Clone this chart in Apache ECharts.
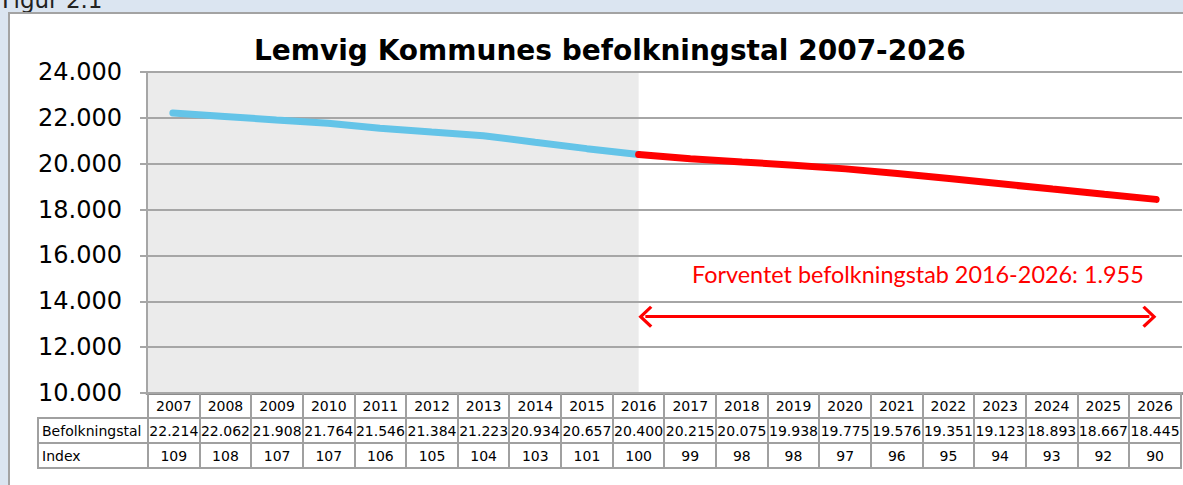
<!DOCTYPE html>
<html>
<head>
<meta charset="utf-8">
<script src="https://cdn.jsdelivr.net/npm/echarts@6/dist/echarts.min.js"></script>
<style>
  html, body { margin: 0; padding: 0; width: 1183px; height: 485px; overflow: hidden;
    background: #dbe5f1; font-family: "DejaVu Sans", Verdana, sans-serif; }
  .fig { position: absolute; left: 2px; top: -11px; font-size: 23px; line-height: 22px; color: #222; }
  .frame { position: absolute; left: 8px; top: 12px; width: 1200px; height: 500px;
    background: #fff; border: 2px solid #a3a3a3; }
  #chart { position: absolute; left: 0; top: 0; width: 1183px; height: 485px; }
  table.data { position: absolute; left: 37px; top: 394px; width: 1145px;
    border-collapse: collapse; table-layout: fixed; font-size: 14px; color: #000; }
  table.data td { height: 23px; padding: 0; border: 2px solid #a0a0a0; text-align: center;
    white-space: nowrap; overflow: hidden; }
  table.data tr:first-child td { border-top: none; }
  table.data td.lbl { text-align: left; padding-left: 3px; }
  table.data td.blank { border: none; }
</style>
</head>
<body>
<div class="fig">Figur 2.1</div>
<div class="frame"></div>
<div id="chart"></div>
<table class="data" id="tbl"></table>
<script>
// Lemvig Kommune population, actual up to 2016 and forecast after
const years = ['2007', '2008', '2009', '2010', '2011', '2012', '2013', '2014', '2015', '2016',
  '2017', '2018', '2019', '2020', '2021', '2022', '2023', '2024', '2025', '2026'];
const population = [22214, 22062, 21908, 21764, 21546, 21384, 21223, 20934, 20657, 20400,
  20215, 20075, 19938, 19775, 19576, 19351, 19123, 18893, 18667, 18445];
const indexValues = [109, 108, 107, 107, 106, 105, 104, 103, 101, 100,
  99, 98, 98, 97, 96, 95, 94, 93, 92, 90];
const splitYear = '2016';
const yMin = 10000, yMax = 24000, yStep = 2000;
const arrowLevel = 13330;

const splitIdx = years.indexOf(splitYear);
const lastIdx = years.length - 1;
const fmt = (v) => String(v).replace(/\B(?=(\d{3})+(?!\d))/g, '.');
const loss = population[splitIdx] - population[lastIdx];

const actual = population.slice(0, splitIdx + 1).map((v, i) => [i, v]);
const forecast = population.slice(splitIdx).map((v, i) => [i + splitIdx, v]);

// data table under the plot
const tbl = document.getElementById('tbl');
let html = '<colgroup><col style="width:110px">' + years.map(() => '<col>').join('') + '</colgroup>';
html += '<tr><td class="blank"></td>' + years.map((y) => `<td>${y}</td>`).join('') + '</tr>';
html += '<tr><td class="lbl">Befolkningstal</td>' + population.map((v) => `<td>${fmt(v)}</td>`).join('') + '</tr>';
html += '<tr><td class="lbl">Index</td>' + indexValues.map((v) => `<td>${v}</td>`).join('') + '</tr>';
tbl.innerHTML = html;

// open chevron arrow heads; the arrow stops where the heads' tips meet the year centres
const chevron = 'path://M0,10 L10,0 L20,10 L18,12 L10,4 L2,12 Z';
const headInset = 0.13;

const chart = echarts.init(document.getElementById('chart'), null, { renderer: 'svg' });
chart.setOption({
  animation: false,
  backgroundColor: 'transparent',
  title: {
    text: 'Lemvig Kommunes befolkningstal 2007-2026',
    left: 249, top: 31,
    textStyle: { fontFamily: 'DejaVu Sans', fontWeight: 'bold', fontSize: 28, color: '#000' },
  },
  grid: { left: 147, right: 1, top: 72, bottom: 92 },
  xAxis: {
    type: 'value', min: -0.5, max: lastIdx + 0.5,
    axisLabel: { show: false }, axisTick: { show: false }, splitLine: { show: false },
    axisLine: { show: true, onZero: false, lineStyle: { color: '#8c8c8c', width: 3 } },
  },
  yAxis: {
    type: 'value', min: yMin, max: yMax, interval: yStep, z: 3,
    axisLine: { show: true, onZero: false, lineStyle: { color: '#a6a6a6', width: 2 } },
    axisTick: { show: true, length: 7, lineStyle: { color: '#a6a6a6', width: 2 } },
    axisLabel: { fontFamily: 'DejaVu Sans', fontSize: 24, color: '#000', margin: 25, formatter: fmt },
    splitLine: { lineStyle: { color: '#a6a6a6', width: 2 } },
  },
  series: [
    {
      name: 'Faktisk', type: 'line', data: actual, z: 5,
      symbol: 'none', lineStyle: { color: '#64c4e8', width: 7, cap: 'round' },
      markArea: {
        silent: true, z: 1,
        itemStyle: { color: '#ebebeb' },
        data: [[{ xAxis: -0.5 }, { xAxis: splitIdx }]],
      },
    },
    {
      name: 'Prognose', type: 'line', data: forecast, z: 6,
      symbol: 'none', lineStyle: { color: '#ff0000', width: 7, cap: 'round' },
      markLine: {
        silent: true,
        symbol: [chevron, chevron], symbolSize: [22, 14],
        lineStyle: { color: '#ff0000', width: 3, type: 'solid' },
        itemStyle: { color: '#ff0000' },
        label: { show: false },
        data: [[{ coord: [splitIdx + headInset, arrowLevel] }, { coord: [lastIdx - headInset, arrowLevel] }]],
      },
    },
  ],
  graphic: [{
    type: 'text', left: 692, top: 262, silent: true,
    style: {
      text: `Forventet befolkningstab ${splitYear}-${years[lastIdx]}: ${fmt(loss)}`,
      fill: '#ff0000', font: '23.4px Lato',
    },
  }],
});
</script>
</body>
</html>
